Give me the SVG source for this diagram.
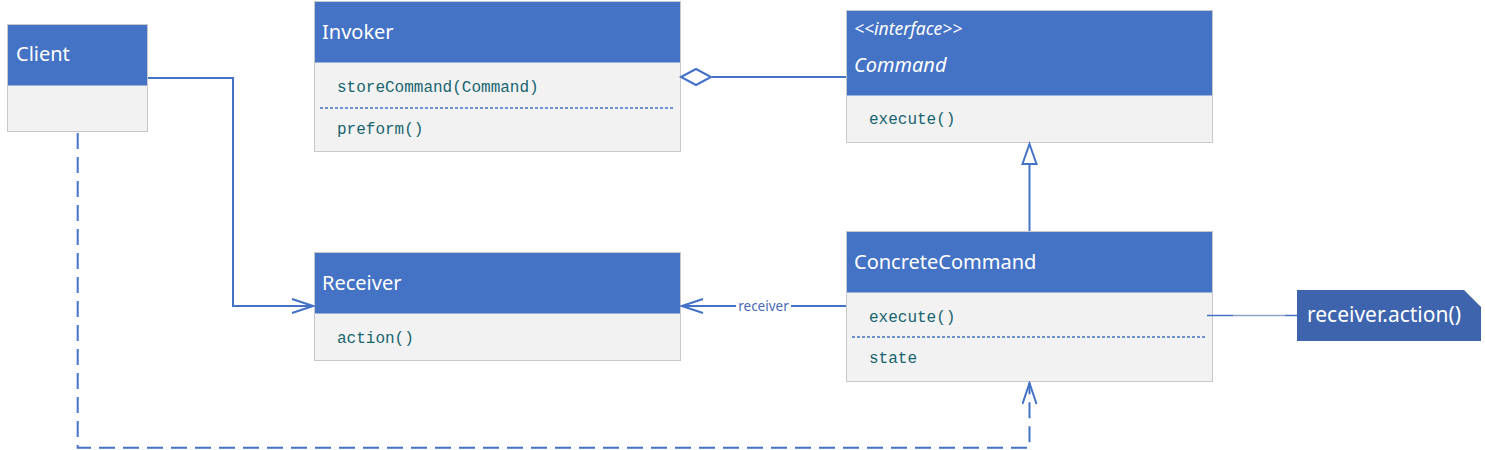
<svg xmlns="http://www.w3.org/2000/svg" width="1485" height="450" viewBox="0 0 1485 450">
<style>
.hdr{fill:#4472C4}
.body{fill:#F2F2F2;stroke:#C8C8C8;stroke-width:1}
.frame{fill:none;stroke:#C8C8C8;stroke-width:1}
.title{font-family:"Noto Sans","Liberation Sans",sans-serif;font-size:20px;fill:#FFFFFF}
.it{font-style:italic}
.st{font-family:"Noto Sans","Liberation Sans",sans-serif;font-size:17.5px;font-style:italic;fill:#FFFFFF}
.mem{font-family:"Liberation Mono","DejaVu Sans Mono",monospace;font-size:16px;fill:#17646F}
.sep{stroke:#4472C4;stroke-width:1.5;stroke-dasharray:3,2}
.conn{fill:none;stroke:#4472C4;stroke-width:2}
.dash{stroke-dasharray:16,8}
.lbl{font-family:"Noto Sans","Liberation Sans",sans-serif;font-size:13.5px;fill:#4A6BB8}
.note{fill:#3E64AD}
.notetext{font-family:"Noto Sans","Liberation Sans",sans-serif;font-size:21px;fill:#FFFFFF}
</style>
<defs>
<marker id="open" markerWidth="24" markerHeight="18" refX="22" refY="8" orient="auto" markerUnits="userSpaceOnUse">
<path d="M1,1 L22,8 L1,15" fill="none" stroke="#4472C4" stroke-width="2"/>
</marker>
</defs>

<g id="client">
<rect class="body" x="7.5" y="24.5" width="140" height="107"/>
<rect class="hdr" x="7.5" y="24.5" width="140" height="61"/>
<rect class="frame" x="7.5" y="24.5" width="140" height="107"/>
<text class="title" x="16" y="61">Client</text>
</g>

<g id="invoker">
<rect class="body" x="314.5" y="1.5" width="366" height="150"/>
<rect class="hdr" x="314.5" y="1.5" width="366" height="61"/>
<rect class="frame" x="314.5" y="1.5" width="366" height="150"/>
<text class="title" x="322" y="39">Invoker</text>
<text class="mem" x="337" y="92">storeCommand(Command)</text>
<line class="sep" x1="320" y1="108" x2="675" y2="108"/>
<text class="mem" x="337" y="134">preform()</text>
</g>

<g id="command">
<rect class="body" x="846.5" y="10.5" width="366" height="132"/>
<rect class="hdr" x="846.5" y="10.5" width="366" height="85"/>
<rect class="frame" x="846.5" y="10.5" width="366" height="132"/>
<text class="st" x="854" y="35">&lt;&lt;interface&gt;&gt;</text>
<text class="title it" x="854" y="72">Command</text>
<text class="mem" x="869" y="124">execute()</text>
</g>

<g id="receiver">
<rect class="body" x="314.5" y="252.5" width="366" height="108"/>
<rect class="hdr" x="314.5" y="252.5" width="366" height="61"/>
<rect class="frame" x="314.5" y="252.5" width="366" height="108"/>
<text class="title" x="322" y="290">Receiver</text>
<text class="mem" x="337" y="343">action()</text>
</g>

<g id="concretecommand">
<rect class="body" x="846.5" y="231.5" width="366" height="150"/>
<rect class="hdr" x="846.5" y="231.5" width="366" height="61"/>
<rect class="frame" x="846.5" y="231.5" width="366" height="150"/>
<text class="title" x="854" y="269">ConcreteCommand</text>
<text class="mem" x="869" y="322">execute()</text>
<line class="sep" x1="852" y1="337" x2="1207" y2="337"/>
<text class="mem" x="869" y="363">state</text>
</g>

<g id="note">
<path class="note" d="M1297,290 L1464,290 L1481,307 L1481,341 L1297,341 Z"/>
<line x1="1464" y1="290" x2="1481" y2="307" stroke="#9AAACB" stroke-width="1"/>
<text class="notetext" x="1307" y="322">receiver.action()</text>
</g>

<g id="connectors">
<polyline class="conn" points="148,78 233,78 233,306 313,306" marker-end="url(#open)"/>
<line class="conn" x1="712" y1="77" x2="846" y2="77"/>
<path d="M681,77 L696,69 L711,77 L696,85 Z" fill="#FFFFFF" stroke="#4472C4" stroke-width="2"/>
<line class="conn" x1="1029.5" y1="231" x2="1029.5" y2="164"/>
<path d="M1029.5,144 L1036.5,164 L1022.5,164 Z" fill="#FFFFFF" stroke="#4472C4" stroke-width="2"/>
<line class="conn" x1="846" y1="306" x2="682" y2="306" marker-end="url(#open)"/>
<rect x="736" y="297" width="55" height="18" fill="#FFFFFF"/>
<text class="lbl" x="763.5" y="311" text-anchor="middle">receiver</text>
<polyline class="conn dash" points="77.7,133 77.7,447.7 1029.5,447.7 1029.5,383" marker-end="url(#open)"/>
<line x1="1207" y1="315.5" x2="1233" y2="315.5" stroke="#4472C4" stroke-width="1.5"/>
<line x1="1233" y1="315.5" x2="1285" y2="315.5" stroke="#8FA3C9" stroke-width="1.5"/>
<line x1="1285" y1="315.5" x2="1297" y2="315.5" stroke="#4472C4" stroke-width="1.5"/>
</g>
</svg>
